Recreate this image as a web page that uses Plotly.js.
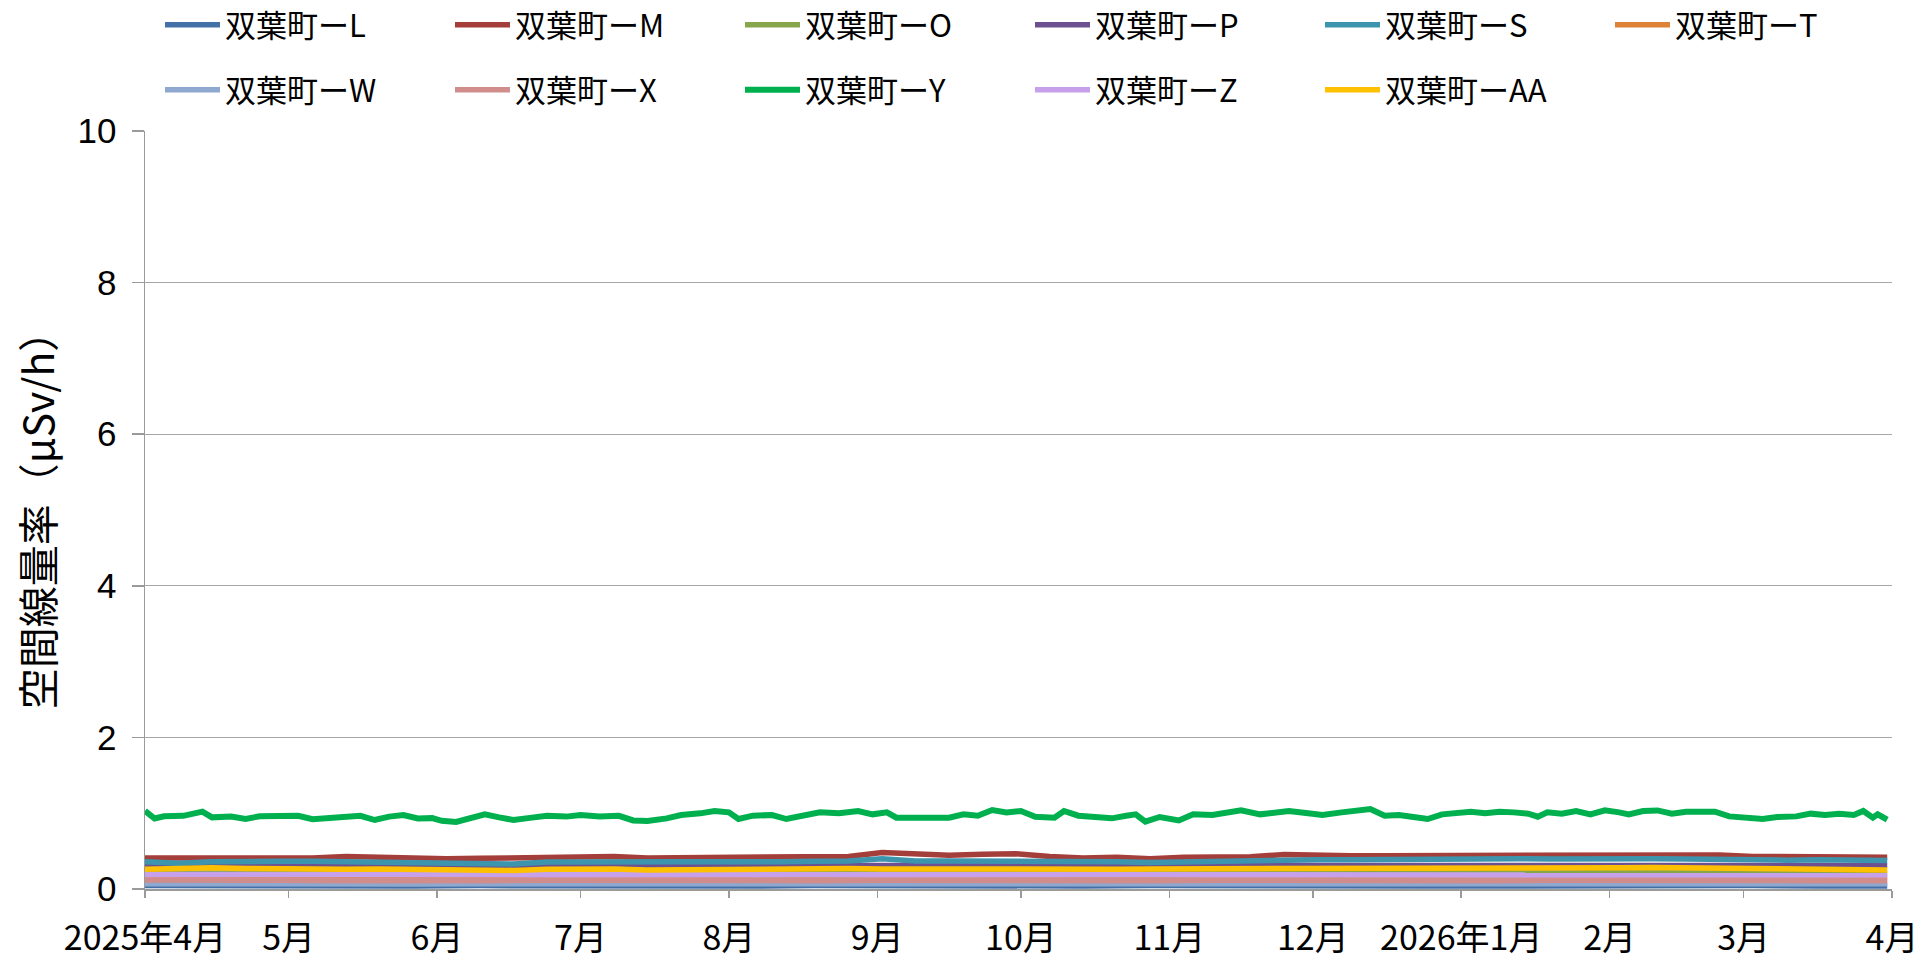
<!DOCTYPE html>
<html>
<head>
<meta charset="utf-8">
<script src="https://cdn.plot.ly/plotly-3.0.1.min.js"></script>
<style>html,body{margin:0;padding:0;background:#fff;}#chart{width:1929px;height:961px;}</style>
</head>
<body>
<div id="chart"></div>
<script>
// ---- data (day offsets from 2025-04-01) ----
const seriesNames = ["双葉町ーL","双葉町ーM","双葉町ーO","双葉町ーP","双葉町ーS","双葉町ーT","双葉町ーW","双葉町ーX","双葉町ーY","双葉町ーZ","双葉町ーAA"];

const greenDays = [0,2,4,8,12,14,18,21,24,28,32,35,38,42,45,48,51,54,57,60,62,65,68,71,74,77,80,84,88,91,95,99,102,105,109,112,116,119,122,124,127,131,134,138,141,145,149,152,155,157,161,165,168,171,174,177,180,183,186,190,192,195,198,202,205,207,209,212,216,219,223,226,229,233,236,239,243,246,250,253,256,259,262,265,268,271,274,277,280,283,286,289,291,293,296,299,302,305,308,310,313,316,319,322,325,328,331,334,338,341,345,348,351,354,357,359,361,362,364];
const valY = [1.03,0.93,0.96,0.965,1.02,0.945,0.955,0.925,0.96,0.965,0.965,0.92,0.935,0.94,0.965,0.91,0.955,0.975,0.93,0.935,0.90,0.885,0.94,0.985,0.945,0.91,0.935,0.965,0.955,0.975,0.958,0.965,0.905,0.897,0.932,0.976,0.998,1.029,1.011,0.923,0.967,0.976,0.923,0.967,1.011,0.998,1.029,0.985,1.011,0.941,0.941,0.923,0.941,0.985,0.967,1.042,1.011,1.029,0.954,0.941,1.029,0.967,0.95,0.932,0.967,0.985,0.888,0.95,0.905,0.985,0.976,1.011,1.037,0.985,1.011,1.029,0.998,0.976,1.011,1.029,1.055,0.967,0.976,0.95,0.923,0.985,1.011,1.02,0.998,1.02,1.011,0.994,0.954,1.011,0.994,1.029,0.985,1.037,1.011,0.985,1.029,1.037,0.994,1.02,1.02,1.02,0.958,0.95,0.923,0.95,0.958,0.994,0.976,0.994,0.976,1.029,0.941,0.985,0.914];

const weeklyDays = [0,7,14,21,28,35,42,49,56,63,70,77,84,91,98,105,112,119,126,133,140,147,154,161,168,175,182,189,196,203,210,217,224,231,238,245,252,259,266,273,280,287,294,301,308,315,322,329,336,343,350,357,364];
const valM = [0.41,0.41,0.415,0.41,0.415,0.41,0.43,0.415,0.41,0.40,0.405,0.415,0.42,0.425,0.43,0.41,0.415,0.42,0.415,0.42,0.425,0.43,0.48,0.455,0.445,0.46,0.465,0.43,0.41,0.42,0.40,0.42,0.425,0.425,0.455,0.44,0.44,0.44,0.44,0.445,0.45,0.445,0.45,0.445,0.455,0.45,0.45,0.45,0.43,0.425,0.43,0.425,0.42];
const valS = [0.36,0.34,0.36,0.37,0.365,0.365,0.36,0.365,0.36,0.355,0.35,0.33,0.355,0.36,0.36,0.355,0.36,0.36,0.355,0.36,0.365,0.37,0.40,0.37,0.37,0.37,0.365,0.36,0.355,0.36,0.35,0.36,0.37,0.38,0.39,0.385,0.385,0.39,0.385,0.39,0.40,0.40,0.395,0.40,0.40,0.40,0.395,0.385,0.38,0.38,0.385,0.38,0.375];
const valAA = [0.26,0.27,0.28,0.27,0.265,0.255,0.26,0.265,0.26,0.255,0.255,0.245,0.26,0.27,0.265,0.25,0.255,0.265,0.265,0.26,0.265,0.27,0.265,0.27,0.265,0.265,0.265,0.26,0.255,0.26,0.265,0.265,0.27,0.275,0.27,0.27,0.275,0.27,0.265,0.275,0.28,0.28,0.28,0.275,0.28,0.285,0.28,0.27,0.255,0.26,0.26,0.255,0.25];

const biweeklyDays = [0,14,28,42,56,70,84,98,112,126,140,154,168,182,196,210,224,238,252,266,280,294,308,322,336,350,364];
const valL = [0.045,0.04,0.045,0.04,0.04,0.045,0.04,0.045,0.04,0.04,0.045,0.04,0.045,0.04,0.04,0.045,0.04,0.04,0.045,0.04,0.04,0.045,0.04,0.04,0.045,0.04,0.04];
const valW = [0.07,0.065,0.07,0.065,0.065,0.07,0.07,0.065,0.07,0.07,0.065,0.07,0.07,0.065,0.065,0.07,0.065,0.07,0.07,0.065,0.07,0.07,0.065,0.07,0.065,0.065,0.07];
const valX = [0.12,0.11,0.115,0.11,0.105,0.11,0.115,0.11,0.11,0.115,0.11,0.115,0.11,0.11,0.105,0.11,0.115,0.11,0.115,0.115,0.11,0.115,0.11,0.11,0.105,0.11,0.11];
const valT = [0.16,0.155,0.155,0.15,0.15,0.155,0.16,0.155,0.155,0.16,0.155,0.16,0.155,0.155,0.15,0.15,0.155,0.16,0.16,0.155,0.16,0.16,0.155,0.155,0.15,0.15,0.15];
const valO = [0.21,0.215,0.21,0.205,0.21,0.215,0.215,0.21,0.21,0.215,0.22,0.22,0.215,0.215,0.21,0.21,0.215,0.22,0.22,0.22,0.225,0.225,0.22,0.22,0.21,0.21,0.21];
const valZ = [0.19,0.19,0.185,0.185,0.185,0.19,0.19,0.185,0.19,0.19,0.19,0.195,0.19,0.19,0.185,0.185,0.19,0.195,0.195,0.195,0.2,0.2,0.195,0.195,0.185,0.185,0.185];
const valP = [0.31,0.31,0.31,0.305,0.305,0.31,0.31,0.305,0.31,0.31,0.315,0.315,0.31,0.31,0.305,0.305,0.31,0.315,0.32,0.32,0.32,0.32,0.32,0.315,0.31,0.31,0.31];

const colors = ["#4470A8","#A43E3B","#87A54B","#6C5090","#3D95AD","#DD8236","#8EA8CF","#D08D8C","#00B04F","#C6A0EA","#FFC000"];

const tickDates = ["2025-04-01","2025-05-01","2025-06-01","2025-07-01","2025-08-01","2025-09-01","2025-10-01","2025-11-01","2025-12-01","2026-01-01","2026-02-01","2026-03-01","2026-04-01"];
const tickLabels = ["2025年4月","5月","6月","7月","8月","9月","10月","11月","12月","2026年1月","2月","3月","4月"];

// ---- build ----
function toDates(days){
  return days.map(d => { const t = new Date(Date.UTC(2025,3,1+d)); return t.toISOString().slice(0,10); });
}
const seriesData = [
  [biweeklyDays, valL],[weeklyDays, valM],[biweeklyDays, valO],[biweeklyDays, valP],
  [weeklyDays, valS],[biweeklyDays, valT],[biweeklyDays, valW],[biweeklyDays, valX],
  [greenDays, valY],[biweeklyDays, valZ],[weeklyDays, valAA]
];
const traces = seriesData.map((sd,i) => ({
  type:'scatter', mode:'lines', name: seriesNames[i],
  x: toDates(sd[0]), y: sd[1],
  line:{color:colors[i], width: i===8 ? 6 : 5.5},
  legend: i < 6 ? 'legend' : 'legend2',
  hoverinfo:'skip'
}));

const legFont = {family:'"Noto Sans CJK JP", "Noto Sans", sans-serif', size:31, color:'#000'};
const legCommon = {orientation:'h', xref:'container', yref:'container', xanchor:'left', yanchor:'middle',
          font:legFont, entrywidth:220, entrywidthmode:'pixels', itemwidth:55, bgcolor:'rgba(0,0,0,0)'};
const layout = {
  width:1929, height:961,
  margin:{l:145, r:37, t:131, b:72},
  paper_bgcolor:'#fff', plot_bgcolor:'#fff',
  showlegend:true,
  legend:Object.assign({x:160/1929, y:1-25/961}, legCommon),
  legend2:Object.assign({x:160/1929, y:1-90/961}, legCommon),
  xaxis:{type:'date', range:['2025-04-01','2026-04-01'], tickmode:'array', tickvals:tickDates, ticktext:tickLabels,
         showgrid:false, zeroline:false, showline:true, linecolor:'#9a9a9a', linewidth:1.5,
         ticks:'outside', ticklen:7, tickcolor:'#9a9a9a', tickwidth:1.5, ticklabelstandoff:12,
         tickfont:{family:'"Noto Sans CJK JP", sans-serif', size:34, color:'#000'}},
  yaxis:{range:[0,10], tickmode:'linear', tick0:0, dtick:2, showgrid:true, gridcolor:'#a6a6a6', gridwidth:1.2,
         zeroline:false, showline:true, linecolor:'#9a9a9a', linewidth:1.5,
         ticks:'outside', ticklen:12, tickcolor:'#9a9a9a', tickwidth:1.5, ticklabelstandoff:8,
         tickfont:{family:'"Liberation Sans", Arial, sans-serif', size:35, color:'#000'},
         title:{text:'空間線量率（μSv/h）', standoff:10, font:{family:'"Noto Sans CJK JP", sans-serif', size:41, color:'#000'}}}
};
Plotly.newPlot('chart', traces, layout, {displayModeBar:false, staticPlot:true});
</script>
</body>
</html>
